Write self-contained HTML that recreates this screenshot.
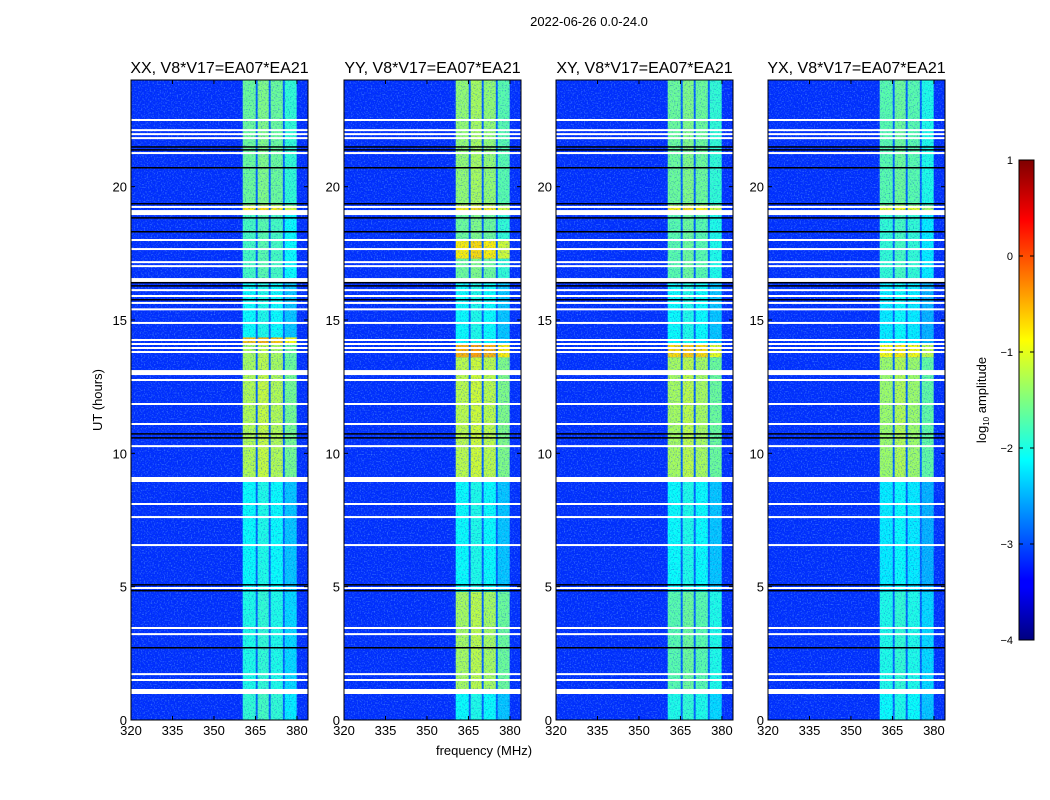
<!DOCTYPE html>
<html><head><meta charset="utf-8"><style>
body{margin:0;background:#fff;}
svg{display:block;font-family:"Liberation Sans",sans-serif;}
</style></head><body>
<svg id="fig" width="1050" height="800" viewBox="0 0 1050 800" xmlns="http://www.w3.org/2000/svg">
<defs>
<filter id="speck" x="0" y="0" width="100%" height="100%">
<feTurbulence type="fractalNoise" baseFrequency="0.7" numOctaves="1" seed="3"/>
<feColorMatrix type="matrix" values="0 0 0 0 0.2  0 0 0 0 0.55  0 0 0 0 1  0 0 0 3 -1.5"/>
</filter>
<filter id="dark" x="0" y="0" width="100%" height="100%">
<feTurbulence type="fractalNoise" baseFrequency="0.75" numOctaves="1" seed="11"/>
<feColorMatrix type="matrix" values="0 0 0 0 0  0 0 0 0 0.05  0 0 0 0 0.6  0 0 0 3 -1.5"/>
</filter>
<linearGradient id="jetgrad" x1="0" y1="1" x2="0" y2="0">
<stop offset="0" stop-color="#00007f"/><stop offset="0.11" stop-color="#0000ff"/>
<stop offset="0.125" stop-color="#0000ff"/><stop offset="0.375" stop-color="#00ffff"/>
<stop offset="0.625" stop-color="#ffff00"/><stop offset="0.875" stop-color="#ff0000"/>
<stop offset="1" stop-color="#7f0000"/>
</linearGradient>
</defs>
<text x="589" y="26" font-size="13" text-anchor="middle">2022-06-26 0.0-24.0</text>
<text x="484" y="755" font-size="13" text-anchor="middle">frequency (MHz)</text>
<text x="102" y="400" font-size="13" text-anchor="middle" transform="rotate(-90 102 400)">UT (hours)</text>
<g id="panels"></g>
<g>
<rect x="1019" y="160" width="15" height="480" fill="url(#jetgrad)" stroke="#000" stroke-width="1"/>
<g id="cbticks"></g>
<text x="986" y="400" font-size="13" text-anchor="middle" transform="rotate(-90 986 400)">log<tspan font-size="8" dy="3">10</tspan><tspan dy="-3"> amplitude</tspan></text>
</g>
</svg>
<script>
const NS="http://www.w3.org/2000/svg";
const panelTitles=["XX, V8*V17=EA07*EA21","YY, V8*V17=EA07*EA21","XY, V8*V17=EA07*EA21","YX, V8*V17=EA07*EA21"];
const panelLeft=[131,344,556,768];
const xTicks=[320,335,350,365,380];
const yTicks=[0,5,10,15,20];
const cbTicks=[1,0,-1,-2,-3,-4];
const backgroundLevel=-3.15;
const gapLevel=-2.9;
const bandColumns=[[360.4,365.1],[365.8,369.8],[370.5,374.9],[375.6,379.9]];
const columnOffset=[0,0.1,0,-0.3];
const segXX=[[0,1,-1.9],[1,4.8,-2.0],[4.8,9,-2.1],[9,13,-1.25],[13,14.1,-1.3],[14.1,14.35,-0.6],[14.35,16.4,-2.1],[16.4,19,-1.8],[19,19.3,-0.8],[19.3,24,-1.6]];
const segYY=[[0,1,-2.1],[1,4.8,-1.3],[4.8,9,-2.1],[9,13.6,-1.2],[13.6,14.1,-0.5],[14.1,16.4,-2.1],[16.4,17.3,-1.6],[17.3,18,-0.8],[18,19,-1.6],[19,19.3,-0.8],[19.3,24,-1.4]];
const segXY=[[0,1,-2.0],[1,4.8,-1.7],[4.8,9,-2.1],[9,13.6,-1.3],[13.6,14.1,-0.7],[14.1,16.4,-2.1],[16.4,19,-1.7],[19,19.3,-0.8],[19.3,24,-1.6]];
const segYX=[[0,1,-2.1],[1,4.8,-2.0],[4.8,9,-2.2],[9,13.6,-1.35],[13.6,14.1,-0.9],[14.1,16.4,-2.2],[16.4,19,-1.9],[19,19.3,-1.0],[19.3,24,-1.7]];
const panelSegments=[segXX,segYY,segXY,segYX];
const whiteFlags=[22.5,22.12,21.97,21.82,21.26,19.24,18.0,17.66,17.17,17.02,16.12,15.9,15.64,15.4,14.89,14.25,14.1,13.95,13.8,12.75,11.85,11.1,10.27,8.1,7.61,6.56,4.95,3.45,3.22,1.72,1.5];
const thickWhiteFlags=[19.01,16.46,13.01,9.0,1.05];
const blackFlags=[21.48,21.37,20.7,19.35,18.82,18.3,16.39,16.27,15.75,10.72,10.57,5.06,4.84,2.7];

const PW=177, TOP=80, BOT=720, FMIN=320, FMAX=384, HMAX=24;
const yScale=h=>BOT-(BOT-TOP)*h/HMAX;
function jet(v){let t=(v+4)/5;t=Math.max(0,Math.min(1,t));
 const f=x=>Math.max(0,Math.min(1,x));
 const r=f(1.5-Math.abs(4*t-3)),g=f(1.5-Math.abs(4*t-2)),b=f(1.5-Math.abs(4*t-1));
 return `rgb(${Math.round(r*255)},${Math.round(g*255)},${Math.round(b*255)})`;}
function mk(tag,attrs,parent){const e=document.createElementNS(NS,tag);for(const k in attrs)e.setAttribute(k,attrs[k]);parent.appendChild(e);return e;}
const root=document.getElementById('panels');
panelLeft.forEach((L,p)=>{
 const xScale=f=>L+PW*(f-FMIN)/(FMAX-FMIN);
 const g=mk('g',{},root);
 
 
 const bg=mk('rect',{x:L,y:TOP,width:PW,height:BOT-TOP,fill:jet(backgroundLevel)},g);
 
 
 const gap=mk('rect',{x:xScale(bandColumns[0][0]),y:TOP,width:xScale(bandColumns[3][1])-xScale(bandColumns[0][0]),height:BOT-TOP,fill:jet(gapLevel)},g);
 
 
 panelSegments[p].forEach(s=>{
  bandColumns.forEach((c,ci)=>{
   const r=mk('rect',{x:xScale(c[0]),y:yScale(s[1]),width:xScale(c[1])-xScale(c[0]),height:yScale(s[0])-yScale(s[1]),fill:jet(s[2]+columnOffset[ci])},g);
   
   
  });
 });
 const sp=mk('rect',{x:L,y:TOP,width:PW,height:BOT-TOP,filter:'url(#speck)',opacity:0.5},g);
 
 
 const dk=mk('rect',{x:L,y:TOP,width:PW,height:BOT-TOP,filter:'url(#dark)',opacity:0.5},g);
 
 
 whiteFlags.forEach(h=>{const l=mk('rect',{x:L,y:yScale(h)-1,width:PW,height:2,fill:'#fff'},g);
  
  });
 thickWhiteFlags.forEach(h=>{const l=mk('rect',{x:L,y:yScale(h)-3,width:PW,height:5,fill:'#fff'},g);
  
  });
 blackFlags.forEach(h=>{const l=mk('rect',{x:L,y:yScale(h)-1,width:PW,height:1.5,fill:'#000'},g);
  
  });
 const fr=mk('rect',{x:L,y:TOP,width:PW,height:BOT-TOP,fill:'none',stroke:'#000','stroke-width':1},g);
 
 
 const t=mk('text',{x:L+PW/2,y:TOP-7,'font-size':16,'text-anchor':'middle'},g);t.textContent=panelTitles[p];
 
 
 xTicks.forEach(v=>{const x=xScale(v);
  mk('line',{x1:x,x2:x,y1:BOT,y2:BOT-4,stroke:'#000'},g);mk('line',{x1:x,x2:x,y1:TOP,y2:TOP+4,stroke:'#000'},g);
  const tt=mk('text',{x:x,y:BOT+15,'font-size':13,'text-anchor':'middle'},g);tt.textContent=v;
  
  });
 yTicks.forEach(v=>{const y=yScale(v);
  mk('line',{x1:L,x2:L+4,y1:y,y2:y,stroke:'#000'},g);mk('line',{x1:L+PW,x2:L+PW-4,y1:y,y2:y,stroke:'#000'},g);
  const tt=mk('text',{x:L-4,y:y+5,'font-size':13,'text-anchor':'end'},g);tt.textContent=v;
  
  });
});
const cb=document.getElementById('cbticks');
cbTicks.forEach(v=>{const y=160+480*(1-v)/5;
 mk('line',{x1:1019,x2:1023,y1:y,y2:y,stroke:'#000'},cb);mk('line',{x1:1030,x2:1034,y1:y,y2:y,stroke:'#000'},cb);
 const tt=mk('text',{x:1013,y:y+4,'font-size':11,'text-anchor':'end'},cb);tt.textContent=v<0?'\u2212'+(-v):v;
 
 });
</script>
</body></html>
